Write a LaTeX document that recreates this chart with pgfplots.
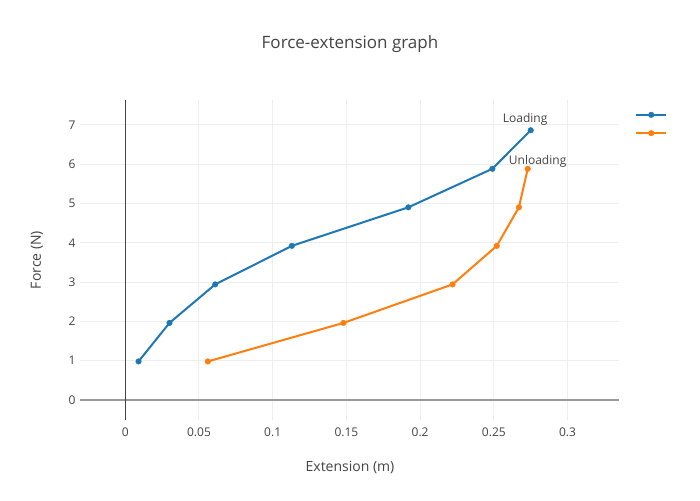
\documentclass[border=0pt]{standalone}
\usepackage{pgfplots}
\pgfplotsset{compat=1.18}
\usepackage{fontspec}
\setmainfont{Open Sans}
\definecolor{cblue}{HTML}{1F77B4}
\definecolor{corange}{HTML}{FF7F0E}
\definecolor{txt}{HTML}{444444}
\definecolor{gridc}{HTML}{EEEEEE}
\begin{document}
\begin{tikzpicture}[x=1pt,y=1pt]
\path[use as bounding box, fill=white] (0,0) rectangle (700,500);
\begin{axis}[
  at={(80pt,80pt)}, anchor=south west,
  scale only axis, width=539pt, height=320pt,
  xmin=-0.0307, xmax=0.3349, ymin=-0.509, ymax=7.63,
  axis line style={draw=none},
  xtick={0,0.05,0.1,0.15,0.2,0.25,0.3},
  xticklabels={0,0.05,0.1,0.15,0.2,0.25,0.3},
  ytick={0,1,2,3,4,5,6,7},
  major tick length=0pt,
  grid=major, major grid style={gridc, line width=1pt},
  tick label style={font=\fontsize{12}{14}\selectfont, text=txt},
  /pgf/number format/assume math mode=true,
  xticklabel style={yshift=-4pt},
  yticklabel style={xshift=-1pt},
  legend style={at={(1.0,1.0)}, anchor=north west, xshift=13pt, yshift=-5pt, draw=none, fill=none,
    row sep=3pt, font=\fontsize{12}{14}\selectfont},
  legend image code/.code={\draw[mark repeat=2,mark phase=2,#1] plot coordinates {(0pt,0pt) (15pt,0pt) (30pt,0pt)};},
  clip=false,
]
\draw[color=gray!80, line width=1.5pt] (axis cs:-0.0307,0) -- (axis cs:0.3349,0);
\draw[color=txt, line width=1pt] (axis cs:0,-0.509) -- (axis cs:0,7.63);
\addplot[cblue, line width=2pt, mark=*, mark size=2.8pt, mark options={solid, line width=0.4pt}] coordinates {
(0.009,0.98) (0.030,1.96) (0.061,2.94) (0.113,3.92) (0.192,4.90) (0.249,5.88) (0.275,6.86)};
\addlegendentry{\strut}
\addplot[corange, line width=2pt, mark=*, mark size=2.8pt, mark options={solid, line width=0.4pt}] coordinates {
(0.056,0.98) (0.148,1.96) (0.222,2.94) (0.252,3.92) (0.267,4.90) (0.273,5.88)};
\addlegendentry{\strut}
\node[text=txt, font=\fontsize{12}{14}\selectfont] at (axis cs:0.2712,7.13) {Loading};
\node[text=txt, font=\fontsize{12}{14}\selectfont] at (axis cs:0.2797,6.08) {Unloading};
\end{axis}
\node[text=txt, font=\fontsize{17}{20}\selectfont] at (350,456) {Force-extension graph};
\node[text=txt, font=\fontsize{14}{17}\selectfont] at (350,33) {Extension (m)};
\node[text=txt, font=\fontsize{14}{17}\selectfont, rotate=90] at (37,240) {Force (N)};
\end{tikzpicture}
\end{document}
